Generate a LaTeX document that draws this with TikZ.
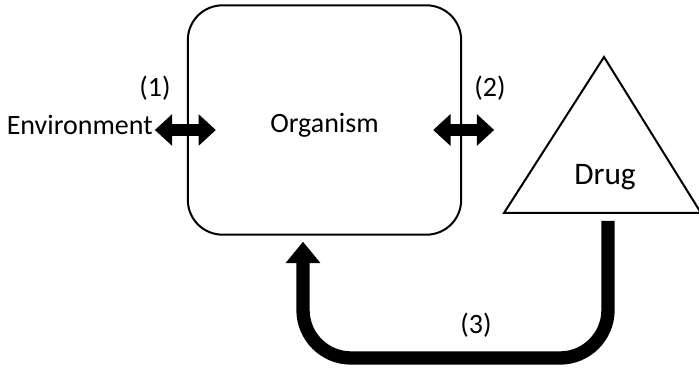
\documentclass[tikz,border=0pt]{standalone}
\usepackage{fontspec}
\setmainfont{Carlito}
\usetikzlibrary{arrows.meta,positioning,calc}

\begin{document}
\begin{tikzpicture}[x=0.75pt, y=-0.75pt,
    box/.style={rectangle, draw, line width=1.5pt, rounded corners=26pt, minimum width=205pt, minimum height=172pt},
    label/.style={inner sep=0pt, font=\fontsize{21}{25}\selectfont},
    swap/.style={{Triangle[width=23pt,length=13pt]}-{Triangle[width=23pt,length=13pt]}, line width=9pt},
    feed/.style={-{Triangle[width=25pt,length=16pt]}, line width=10pt, rounded corners=36pt}
]
\useasboundingbox (0,0) rectangle (699,370);

\node[box] (organism) at (324.5,120) {};
\node[label] (organism-text) at ($(organism)+(0,5)$) {Organism};
\node[label, anchor=east] (environment) at (153,125) {Environment};

% drug triangle
\coordinate (drug-top) at (604,57);
\coordinate (drug-left) at (504,213);
\coordinate (drug-right) at (701,213);
\draw[line width=1.5pt, line join=miter] (drug-top) -- (drug-left) -- (drug-right) -- cycle;
\node[label, font=\fontsize{23.5}{28}\selectfont] (drug) at (605,177) {Drug};

% exchange arrows
\coordinate (env-a) at ($(organism.west)+(-32,10)$);
\coordinate (env-b) at ($(organism.west)+(29,10)$);
\coordinate (drug-a) at ($(organism.east)+(-29,10)$);
\coordinate (drug-b) at ($(organism.east)+(32,10)$);
\draw[swap] (env-a) -- (env-b);
\draw[swap] (drug-a) -- (drug-b);
\node[label] (step1) at (155,88) {(1)};
\node[label] (step2) at (490,88) {(2)};

% feedback from drug to organism
\coordinate (drug-out) at (608,221);
\coordinate (organism-in) at ($(organism.south)+(-21.5,6)$);
\draw[feed] (drug-out) -- (608,358) -- (organism-in |- 0,358) -- (organism-in);
\node[label] (step3) at (476,325) {(3)};
\end{tikzpicture}
\end{document}
